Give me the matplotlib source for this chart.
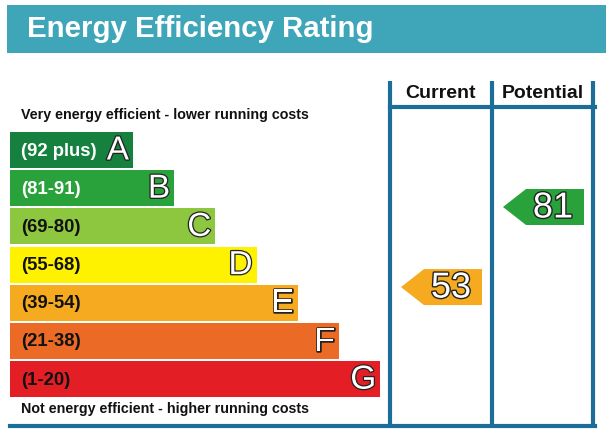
import matplotlib
matplotlib.use("Agg")
import matplotlib.pyplot as plt
import matplotlib.patheffects as pe
from matplotlib.patches import Polygon, Rectangle

# bands from best to worst
letras = ["A", "B", "C", "D", "E", "F", "G"]
rangos = ["(92 plus)", "(81-91)", "(69-80)", "(55-68)", "(39-54)", "(21-38)", "(1-20)"]
limites = [92, 81, 69, 55, 39, 21, 1]
colores = ["#16813f", "#29a23c", "#8dc63f", "#fff200", "#f5aa1f", "#eb6a26", "#e31e25"]
texto_blanco = [True, True, False, False, False, False, False]

actual = 53
potencial = 81

titulo = "Energy Efficiency Rating"
arriba = "Very energy efficient - lower running costs"
abajo = "Not energy efficient - higher running costs"
columnas = ["Current", "Potential"]

azul = "#1a6e97"

fig = plt.figure(figsize=(6.06, 4.37), dpi=100)
ax = fig.add_axes([0, 0, 1, 1])
ax.set_xlim(0, 606)
ax.set_ylim(437, 0)
ax.axis("off")

# banner
ax.add_patch(Rectangle((7, 5), 599, 48, color="#3fa6b9", lw=0))
ax.text(27, 29, titulo, color="white", fontsize=21.2, fontweight="bold",
        family="Liberation Sans", va="center", ha="left")

# bars
y0 = 150
paso = 38.2
for i, letra in enumerate(letras):
    yc = y0 + i * paso
    ancho = 123 + i * 41.2
    ax.barh(yc, ancho, height=36, left=10, color=colores[i], lw=0)
    ax.text(21, yc + 1, rangos[i], fontsize=13.3, fontweight="bold",
            family="Liberation Sans", va="center", ha="left",
            color="white" if texto_blanco[i] else "#111111")
    ax.text(10 + ancho - 4, yc + 1, letra, fontsize=24, family="Liberation Sans",
            va="center", ha="right", color="white",
            path_effects=[pe.Stroke(linewidth=1.8, foreground="#222222"), pe.Normal()])

ax.text(21, 115, arriba, fontsize=10.3, fontweight="bold", family="Liberation Sans",
        va="center", ha="left", color="#111111")
ax.text(21, 409, abajo, fontsize=10.3, fontweight="bold", family="Liberation Sans",
        va="center", ha="left", color="#111111")

# table lines
xs = [390, 492, 593]
for x in xs:
    ax.plot([x, x], [81, 426], color=azul, lw=3, solid_capstyle="butt")
ax.plot([xs[0], xs[2] + 1.5], [107, 107], color=azul, lw=3)
ax.plot([10, xs[2] + 1.5], [426, 426], color=azul, lw=3)
for j, col in enumerate(columnas):
    ax.text((xs[j] + xs[j + 1]) / 2, 93, col, fontsize=14, fontweight="bold",
            family="Liberation Sans", va="center", ha="center", color="#111111")


def banda(v):
    for k, lim in enumerate(limites):
        if v >= lim:
            return k
    return len(limites) - 1


def flecha(xcol, valor):
    yc = 207 + (81 - valor) * 2.86
    k = banda(valor)
    punta = xcol + 11
    fin = xcol + 92
    h = 18
    pts = [(punta, yc), (punta + 23, yc - h), (fin, yc - h), (fin, yc + h), (punta + 23, yc + h)]
    ax.add_patch(Polygon(pts, closed=True, color=colores[k], lw=0))
    ax.text(fin - 31, yc + 1, str(valor), fontsize=26, family="Liberation Sans",
            va="center", ha="center", color="white",
            path_effects=[pe.Stroke(linewidth=2.0, foreground="#222222"), pe.Normal()])


flecha(xs[0], actual)
flecha(xs[1], potencial)

fig.savefig("out.png", dpi=100)
